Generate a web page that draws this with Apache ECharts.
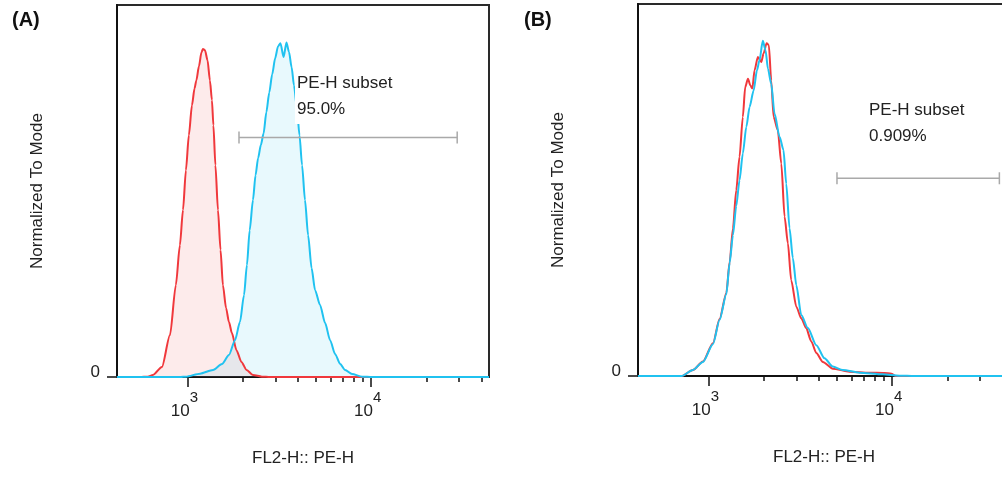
<!DOCTYPE html>
<html>
<head>
<meta charset="utf-8">
<script src="https://cdn.jsdelivr.net/npm/echarts@6/dist/echarts.min.js"></script>
<style>
  html, body { margin: 0; padding: 0; background: #fff; }
  #chart { width: 1002px; height: 477px; }
</style>
</head>
<body>
<div id="chart"></div>
<script>
// FL2-H (PE-H) histograms. Each point: [log10 of channel intensity, % of mode]
const controlA = [[2.612,0],[2.738,0],[2.781,0.1],[2.809,0.6],[2.858,3.0],[2.902,12.5],[2.934,27.4],[2.956,39.3],[2.973,49.8],[2.989,61.7],[3.005,72.1],[3.022,81.1],[3.036,86.1],[3.046,88.5],[3.060,92.7],[3.074,96.9],[3.082,97.9],[3.093,97.5],[3.107,94.5],[3.120,88.5],[3.131,82.6],[3.139,75.1],[3.150,63.2],[3.164,49.8],[3.178,37.9],[3.191,27.4],[3.208,20.6],[3.224,16.4],[3.240,13.1],[3.265,8.0],[3.292,4.5],[3.320,2.1],[3.355,0.6],[3.404,0.1],[3.448,0],[4.644,0]];
const stainedA = [[2.612,0],[2.960,0],[2.989,0.1],[3.066,1.0],[3.137,2.1],[3.186,3.9],[3.224,6.6],[3.257,11.0],[3.284,16.4],[3.306,24.4],[3.322,33.4],[3.337,43.8],[3.355,52.8],[3.369,60.2],[3.383,65.3],[3.398,69.2],[3.413,72.7],[3.428,79.0],[3.444,84.9],[3.460,90.3],[3.476,95.1],[3.492,98.7],[3.505,99.6],[3.522,95.5],[3.538,99.8],[3.552,96.9],[3.566,92.4],[3.579,87.0],[3.596,79.6],[3.609,72.1],[3.623,63.2],[3.639,52.8],[3.656,42.3],[3.675,32.5],[3.694,25.9],[3.721,21.5],[3.749,16.1],[3.776,11.0],[3.803,6.9],[3.831,3.9],[3.858,2.1],[3.896,0.9],[3.951,0.1],[4.005,0],[4.644,0]];
const controlB = [[2.612,0],[2.850,0],[2.913,1.8],[2.967,4.3],[3.022,9.8],[3.058,17.0],[3.095,24.8],[3.113,34.0],[3.131,44.0],[3.149,55.4],[3.167,65.4],[3.185,77.3],[3.198,86.2],[3.213,88.7],[3.226,86.7],[3.237,85.8],[3.249,91.2],[3.267,95.2],[3.286,93.7],[3.298,96.2],[3.315,99.3],[3.327,98.7],[3.340,88.2],[3.353,77.3],[3.376,73.3],[3.395,63.4],[3.413,47.5],[3.431,39.6],[3.449,28.6],[3.477,20.7],[3.504,17.2],[3.531,14.3],[3.558,10.4],[3.586,6.9],[3.622,4.2],[3.676,2.2],[3.767,1.3],[3.876,1.0],[3.958,0.9],[3.996,0.7],[4.018,0],[4.644,0]];
const stainedB = [[2.612,0],[2.850,0],[2.913,1.8],[2.967,4.2],[3.022,9.5],[3.058,16.7],[3.095,24.4],[3.113,33.7],[3.131,42.0],[3.149,50.7],[3.167,58.4],[3.185,66.4],[3.204,74.3],[3.222,80.3],[3.244,85.2],[3.262,91.2],[3.276,94.2],[3.294,100],[3.309,97.2],[3.322,91.7],[3.340,87.2],[3.358,78.3],[3.386,71.3],[3.407,67.4],[3.422,57.4],[3.440,44.1],[3.458,35.2],[3.477,27.1],[3.504,18.2],[3.540,14.3],[3.586,9.2],[3.631,5.3],[3.676,2.8],[3.731,1.8],[3.822,1.0],[3.949,0.5],[4.040,0.1],[4.122,0],[4.644,0]];

// PE-H subset gates: [lower bound, upper bound] in channel units, plus the level the bar sits at
const gateA = [1900, 29500];
const gateB = [5000, 38500];
const gateLevels = [71.5, 59];
const gateTexts = ['PE-H subset\n95.0%', 'PE-H subset\n0.909%'];

// Axis ticks in channel units
const axisRange = [410, 44000];
const majorTicks = [1000, 10000];
const minorTicks = [2000, 3000, 4000, 5000, 6000, 7000, 8000, 9000, 20000, 30000, 40000];

const FONT = '"Liberation Sans", Arial, Helvetica, sans-serif';
const lg = v => Math.log10(v);
const xMin = lg(axisRange[0]), xMax = lg(axisRange[1]);

const RED = '#f0383c';
const BLUE = '#20c2f0';

function mainX(gridIndex) {
  return {
    type: 'value', gridIndex, min: xMin, max: xMax, position: 'bottom',
    name: 'FL2-H:: PE-H', nameLocation: 'middle', nameGap: 73,
    nameTextStyle: { fontSize: 17, color: '#222', fontFamily: FONT },
    axisLine: { show: true, onZero: false, lineStyle: { color: '#111', width: 2 } },
    axisTick: { show: true, length: 10, customValues: majorTicks.map(lg), lineStyle: { color: '#111', width: 1.5 } },
    axisLabel: {
      customValues: majorTicks.map(lg), margin: 13, padding: [0, 7, 0, 0], color: '#222',
      formatter: v => '{b|10}{e|' + Math.round(v) + '}',
      rich: {
        b: { fontSize: 17, lineHeight: 30, verticalAlign: 'bottom', color: '#222', fontFamily: FONT },
        e: { fontSize: 15, lineHeight: 18, verticalAlign: 'top', color: '#222', fontFamily: FONT }
      }
    },
    splitLine: { show: false }
  };
}
function minorX(gridIndex) {
  return {
    type: 'value', gridIndex, min: xMin, max: xMax, position: 'bottom',
    axisLine: { show: false },
    axisTick: { show: true, length: 5, customValues: minorTicks.map(lg), lineStyle: { color: '#111', width: 1.5 } },
    axisLabel: { show: false },
    splitLine: { show: false }
  };
}
function yAx(gridIndex) {
  return {
    type: 'value', gridIndex, min: 0, max: 111,
    name: 'Normalized To Mode', nameLocation: 'middle', nameGap: 71,
    nameTextStyle: { fontSize: 17, color: '#222', fontFamily: FONT },
    axisLine: { show: true, onZero: false, lineStyle: { color: '#111', width: 2 } },
    axisTick: { show: true, length: 10, customValues: [0], lineStyle: { color: '#111', width: 1.5 } },
    axisLabel: {
      customValues: [0], margin: 17, color: '#222',
      formatter: v => '{z|' + v + '}',
      rich: { z: { fontSize: 17, color: '#222', fontFamily: FONT, padding: [0, 0, 9, 0] } }
    },
    splitLine: { show: false }
  };
}
function hist(data, color, xAxisIndex, yAxisIndex, filled) {
  const s = {
    type: 'line', data, xAxisIndex, yAxisIndex, symbol: 'none',
    smooth: 0.25, smoothMonotone: 'x',
    lineStyle: { color, width: 2 }, itemStyle: { color },
    z: 3
  };
  if (filled) s.areaStyle = { color, opacity: 0.1 };
  return s;
}
function gate(range, level, xAxisIndex, yAxisIndex) {
  return {
    type: 'custom', xAxisIndex, yAxisIndex, z: 4,
    data: [[lg(range[0]), lg(range[1]), level]],
    encode: { x: [0, 1], y: 2 },
    renderItem(params, api) {
      const a = api.coord([api.value(0), api.value(2)]);
      const b = api.coord([api.value(1), api.value(2)]);
      const st = { stroke: '#a9a9a9', lineWidth: 1.5 };
      return {
        type: 'group',
        children: [
          { type: 'line', shape: { x1: a[0], y1: a[1], x2: b[0], y2: b[1] }, style: st },
          { type: 'line', shape: { x1: a[0], y1: a[1] - 6, x2: a[0], y2: a[1] + 6 }, style: st },
          { type: 'line', shape: { x1: b[0], y1: b[1] - 6, x2: b[0], y2: b[1] + 6 }, style: st }
        ]
      };
    }
  };
}

const chart = echarts.init(document.getElementById('chart'), null, { renderer: 'canvas' });
chart.setOption({
  animation: false,
  backgroundColor: '#fff',
  textStyle: { fontFamily: FONT },
  title: [
    { text: '(A)', left: 12, top: 10, textStyle: { fontSize: 20, fontWeight: 'bold', color: '#111', fontFamily: FONT }, padding: 0 },
    { text: '(B)', left: 524, top: 10, textStyle: { fontSize: 20, fontWeight: 'bold', color: '#111', fontFamily: FONT }, padding: 0 }
  ],
  grid: [
    { left: 117, top: 5, width: 372, height: 372, show: true, borderColor: '#2a2a2a', borderWidth: 2, outerBoundsMode: 'none' },
    { left: 638, top: 4, width: 372, height: 372, show: true, borderColor: '#2a2a2a', borderWidth: 2, outerBoundsMode: 'none' }
  ],
  xAxis: [mainX(0), minorX(0), mainX(1), minorX(1)],
  yAxis: [yAx(0), yAx(1)],
  graphic: [
    { type: 'text', left: 295, top: 70, z: 100,
      style: { text: gateTexts[0], font: '17px ' + FONT, fill: '#222', lineHeight: 26, backgroundColor: '#fff', padding: [0, 3, 2, 2] } },
    { type: 'text', left: 867, top: 97, z: 100,
      style: { text: gateTexts[1], font: '17px ' + FONT, fill: '#222', lineHeight: 26, backgroundColor: '#fff', padding: [0, 3, 2, 2] } }
  ],
  series: [
    hist(controlA, RED, 0, 0, true),
    hist(stainedA, BLUE, 0, 0, true),
    gate(gateA, gateLevels[0], 0, 0),
    hist(controlB, RED, 2, 1, false),
    hist(stainedB, BLUE, 2, 1, false),
    gate(gateB, gateLevels[1], 2, 1)
  ]
});
</script>
</body>
</html>
